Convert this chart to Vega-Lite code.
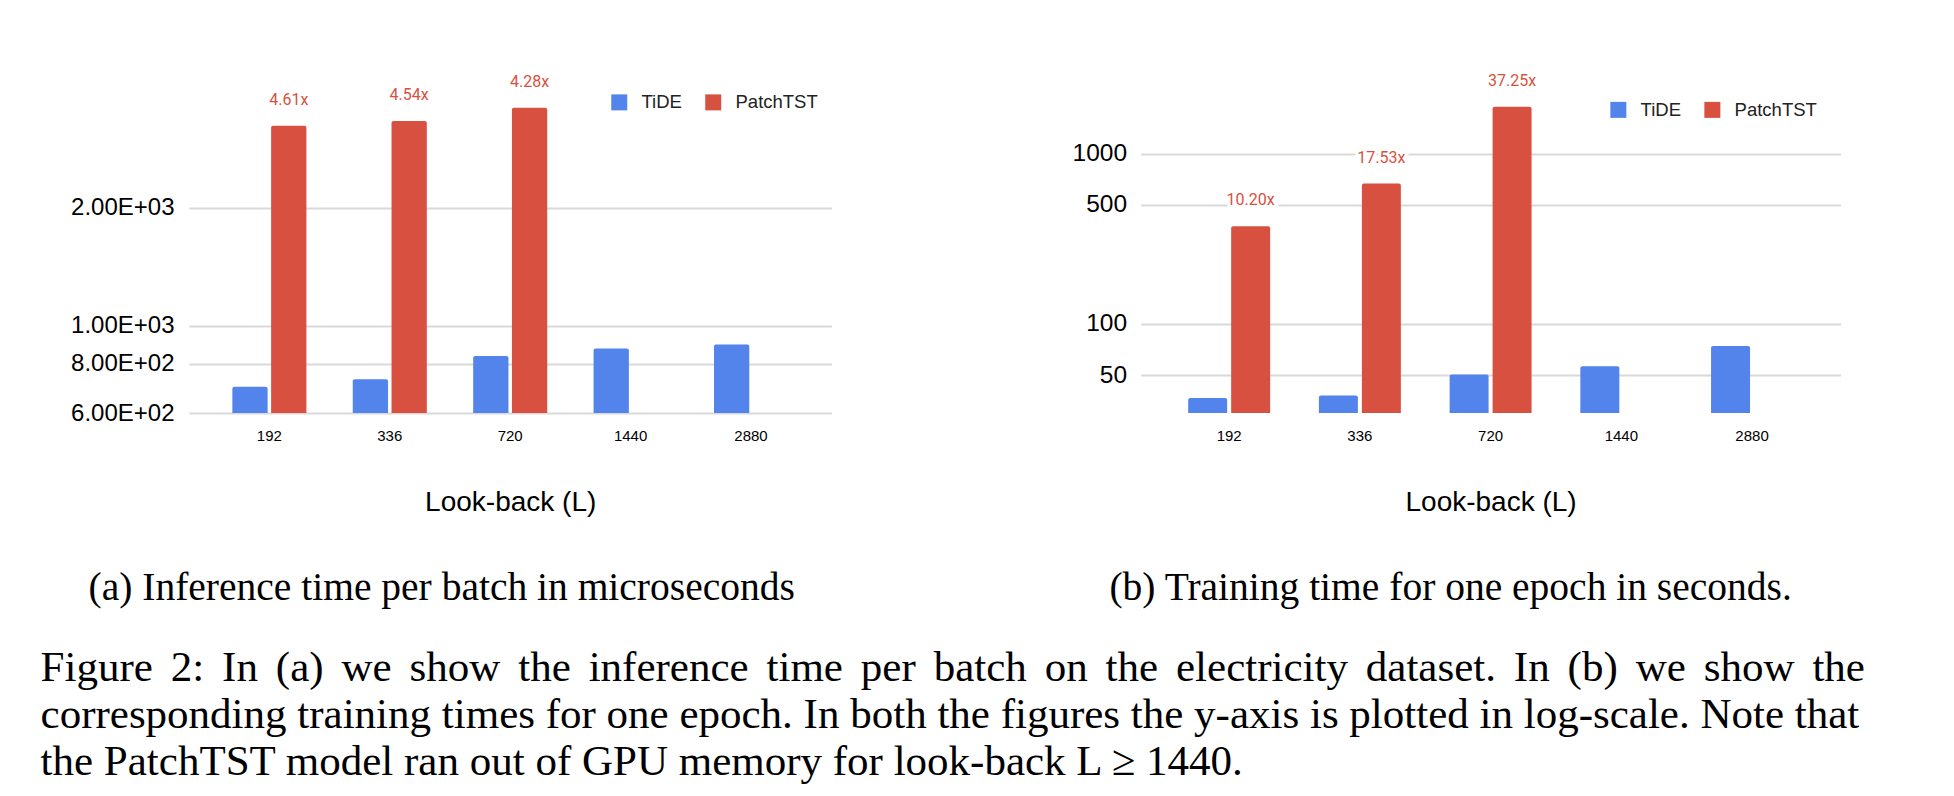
{
  "$schema": "https://vega.github.io/schema/vega-lite/v6.json",
  "background": "white",
  "padding": {"left": 40, "top": 68, "right": 10, "bottom": 10},
  "config": {
    "view": {"stroke": null},
    "font": "Liberation Sans",
    "axis": {"domain": false, "ticks": false, "labelFont": "Liberation Sans", "labelColor": "#000", "titleFont": "Liberation Sans", "titleFontWeight": "normal", "titleColor": "#000", "gridColor": "#D9D9D9", "gridWidth": 2},
    "scale": {"round": false}
  },
  "bounds": "flush",
  "spacing": 308.6,
  "resolve": {"scale": {"x": "independent", "y": "independent", "xOffset": "independent", "color": "shared"}, "legend": {"color": "independent"}},
  "title": {
    "text": ["Figure \u20062: \u2006In \u2006(a) \u2006we \u2006show \u2006the \u2006inference \u2006time \u2006per \u2006batch \u2006on \u2006the \u2006electricity \u2006dataset. \u2006In \u2006(b) \u2006we \u2006show \u2006the", "corresponding training times for one epoch. In both the figures the y-axis is plotted in log-scale. Note that", "the PatchTST model ran out of GPU memory for look-back L ≥ 1440."],
    "orient": "bottom", "anchor": "start", "font": "Liberation Serif", "fontSize": 43, "fontWeight": "normal", "color": "#000", "lineHeight": 47, "offset": 40, "dx": -30
  },
  "hconcat": [
    {
      "width": 642.4,
      "height": 345,
      "title": {"text": "(a) Inference time per batch in microseconds", "orient": "bottom", "anchor": "middle", "frame": "group", "font": "Liberation Serif", "fontSize": 39.5, "fontWeight": "normal", "color": "#000", "offset": 52, "dx": -68.5},
      "data": {"values": [
        {"L": "192", "model": "TiDE", "value": 700},
        {"L": "192", "model": "PatchTST", "value": 3230, "label": "4.61x"},
        {"L": "336", "model": "TiDE", "value": 731},
        {"L": "336", "model": "PatchTST", "value": 3320, "label": "4.54x"},
        {"L": "720", "model": "TiDE", "value": 838},
        {"L": "720", "model": "PatchTST", "value": 3590, "label": "4.28x"},
        {"L": "1440", "model": "TiDE", "value": 875},
        {"L": "2880", "model": "TiDE", "value": 896}
      ]},
      "encoding": {
        "x": {"field": "L", "type": "ordinal", "sort": ["192", "336", "720", "1440", "2880"], "scale": {"paddingInner": 0.385, "paddingOuter": 0.36}, "axis": {"labelAngle": 0, "labelFontSize": 15, "labelPadding": 15, "title": "Look-back (L)", "titleFontSize": 28, "titlePadding": 45.5, "grid": false}},
        "xOffset": {"field": "model", "type": "nominal", "scale": {"domain": ["TiDE", "PatchTST"], "paddingInner": 0.09}},
        "y": {"field": "value", "type": "quantitative", "stack": null, "scale": {"type": "log", "domain": [600, 4530], "nice": false}, "axis": {"values": [600, 800, 1000, 2000], "labelExpr": "replace(format(datum.value, '.2e'), 'e+', 'E+0')", "labelFontSize": 24, "labelPadding": 15, "title": null, "grid": true}}
      },
      "layer": [
        {
          "mark": {"type": "bar", "cornerRadiusTopLeft": 2, "cornerRadiusTopRight": 2},
          "encoding": {
            "y2": {"datum": 600},
            "color": {"field": "model", "type": "nominal", "scale": {"domain": ["TiDE", "PatchTST"], "range": ["#5384EC", "#D85140"]}, "legend": {"orient": "none", "legendX": 421, "legendY": 25, "direction": "horizontal", "title": null, "symbolType": "square", "symbolSize": 256, "symbolStrokeWidth": 0, "symbolOpacity": 1, "labelFontSize": 18.5, "labelFont": "Liberation Sans", "labelColor": "#222", "labelOffset": 13, "columnPadding": 22}}}
        },
        {
          "transform": [{"filter": "isValid(datum.label)"}],
          "mark": {"type": "text", "dy": -26, "font": "Roboto", "fontSize": 16, "baseline": "middle", "fill": "white", "stroke": "white", "strokeWidth": 6},
          "encoding": {"text": {"field": "label"}}
        },
        {
          "transform": [{"filter": "isValid(datum.label)"}],
          "mark": {"type": "text", "dy": -26, "font": "Roboto", "fontSize": 16, "baseline": "middle", "fill": "#D85140"},
          "encoding": {"text": {"field": "label"}}
        }
      ]
    },
    {
      "width": 700,
      "height": 345,
      "title": {"text": "(b) Training time for one epoch in seconds.", "orient": "bottom", "anchor": "middle", "frame": "group", "font": "Liberation Serif", "fontSize": 39.5, "fontWeight": "normal", "color": "#000", "offset": 52, "dx": -40},
      "data": {"values": [
        {"L": "192", "model": "TiDE", "value": 36.7},
        {"L": "192", "model": "PatchTST", "value": 374, "label": "10.20x"},
        {"L": "336", "model": "TiDE", "value": 38.05},
        {"L": "336", "model": "PatchTST", "value": 667, "label": "17.53x"},
        {"L": "720", "model": "TiDE", "value": 50.5},
        {"L": "720", "model": "PatchTST", "value": 1881, "label": "37.25x"},
        {"L": "1440", "model": "TiDE", "value": 56.4},
        {"L": "2880", "model": "TiDE", "value": 74.2}
      ]},
      "encoding": {
        "x": {"field": "L", "type": "ordinal", "sort": ["192", "336", "720", "1440", "2880"], "scale": {"paddingInner": 0.373, "paddingOuter": 0.364}, "axis": {"labelAngle": 0, "labelFontSize": 15, "labelPadding": 15, "title": "Look-back (L)", "titleFontSize": 28, "titlePadding": 45.5, "grid": false}},
        "xOffset": {"field": "model", "type": "nominal", "scale": {"domain": ["TiDE", "PatchTST"], "paddingInner": 0.093}},
        "y": {"field": "value", "type": "quantitative", "stack": null, "scale": {"type": "log", "domain": [30, 3180], "nice": false}, "axis": {"values": [50, 100, 500, 1000], "format": "d", "labelFontSize": 24.5, "labelPadding": 14, "title": null, "grid": true}}
      },
      "layer": [
        {
          "mark": {"type": "bar", "cornerRadiusTopLeft": 2, "cornerRadiusTopRight": 2},
          "encoding": {
            "y2": {"datum": 30},
            "color": {"field": "model", "type": "nominal", "scale": {"domain": ["TiDE", "PatchTST"], "range": ["#5384EC", "#D85140"]}, "legend": {"orient": "none", "legendX": 468.5, "legendY": 32.5, "direction": "horizontal", "title": null, "symbolType": "square", "symbolSize": 256, "symbolStrokeWidth": 0, "symbolOpacity": 1, "labelFontSize": 18.5, "labelFont": "Liberation Sans", "labelColor": "#222", "labelOffset": 13, "columnPadding": 22}}}
        },
        {
          "transform": [{"filter": "isValid(datum.label)"}],
          "mark": {"type": "text", "dy": -26, "font": "Roboto", "fontSize": 16, "baseline": "middle", "fill": "white", "stroke": "white", "strokeWidth": 6},
          "encoding": {"text": {"field": "label"}}
        },
        {
          "transform": [{"filter": "isValid(datum.label)"}],
          "mark": {"type": "text", "dy": -26, "font": "Roboto", "fontSize": 16, "baseline": "middle", "fill": "#D85140"},
          "encoding": {"text": {"field": "label"}}
        }
      ]
    }
  ]
}
